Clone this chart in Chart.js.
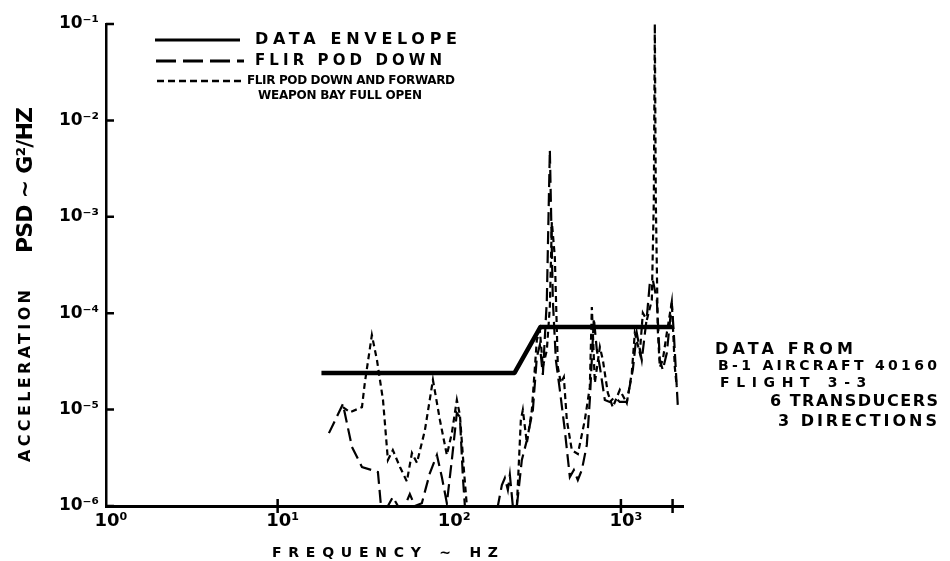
<!DOCTYPE html>
<html>
<head>
<meta charset="utf-8">
<script src="https://cdn.jsdelivr.net/npm/chart.js@4.4.1/dist/chart.umd.min.js"></script>
<style>
html,body{margin:0;padding:0;background:#fff;}
#wrap{position:relative;width:950px;height:561px;overflow:hidden;background:#fff;font-family:"DejaVu Sans",sans-serif;color:#000;}
#c{position:absolute;left:0;top:0;}
.t{position:absolute;white-space:nowrap;line-height:1;font-family:"DejaVu Sans",sans-serif;font-weight:bold;color:#000;}
#leg{position:absolute;left:0;top:0;}
</style>
</head>
<body>
<div id="wrap">
<canvas id="c" width="950" height="561"></canvas>
<svg id="leg" width="950" height="561">
  <line x1="155" y1="40" x2="240" y2="40" stroke="#000" stroke-width="3"/>
  <line x1="156" y1="61" x2="244" y2="61" stroke="#000" stroke-width="3" stroke-dasharray="20 7"/>
  <line x1="157" y1="81" x2="245" y2="81" stroke="#000" stroke-width="2.5" stroke-dasharray="7 4"/>
</svg>
</div>
<script>
// ---------------- data ----------------
const xTickValues = [1, 10, 100, 1000, 2000];
const xTickLabels = ['10⁰', '10¹', '10²', '10³', ''];
const xTickMarks  = [10, 1000, 2000];
const yTickValues = [1e-6, 1e-5, 1e-4, 1e-3, 1e-2, 1e-1];
const yTickLabels = ['10⁻⁶', '10⁻⁵', '10⁻⁴', '10⁻³', '10⁻²', '10⁻¹'];

const seriesNames = ['DATA ENVELOPE', 'FLIR POD DOWN', 'FLIR POD DOWN AND FORWARD WEAPON BAY FULL OPEN'];

const envelopeFreq = [18, 240, 340, 2000];
const envelopePsd  = [2.4e-5, 2.4e-5, 7.2e-5, 7.2e-5];

const podDownFreq = [19.9, 24.0, 27.1, 31.0, 35.4, 38.4, 40.0, 43.9, 46.9, 50.2, 55.1, 58.9, 63.0,
  69.2, 77.1, 84.7, 90.5, 96.8, 103.5, 110.7, 115.3, 120, 123.3,
  191.9, 202.5, 210.8, 219.4, 225.4, 234.6, 247.6, 264.7, 283.1, 306.9, 323.7, 337, 350.9, 370.2,
  385.4, 401.2, 417.8, 440.7, 471.2, 504, 531.7, 561, 592, 633, 659, 695.6, 723.9, 753.9, 805.9,
  861.6, 921.2, 985.4, 1082, 1173, 1237, 1323, 1416, 1474, 1534, 1619, 1685, 1754, 1851, 1979, 2033, 2145];
const podDownPsd = [5.7e-6, 1.14e-5, 4.1e-6, 2.54e-6, 2.36e-6, 2.25e-6, 1e-6, 1e-6, 1.24e-6, 1e-6, 1e-6, 1.33e-6, 1e-6,
  1.07e-6, 2.2e-6, 3.38e-6, 2.0e-6, 1.07e-6, 3.0e-6, 9.2e-6, 8.4e-6, 2.0e-6, 1e-6,
  1e-6, 1.65e-6, 1.95e-6, 1.47e-6, 2.1e-6, 1e-6, 1e-6, 3e-6, 4.8e-6, 9.9e-6, 3.51e-5, 4.68e-5, 2.29e-5, 1.37e-4,
  4.93e-3, 1.37e-4, 3.27e-5, 1.6e-5, 6.1e-6, 2.0e-6, 2.36e-6, 1.86e-6, 2.36e-6, 4.3e-6, 1.26e-5, 8.9e-5, 4.15e-5, 2.77e-5, 1.26e-5,
  1.2e-5, 1.35e-5, 1.2e-5, 1.2e-5, 2.58e-5, 6.24e-5, 3.27e-5, 9.14e-5, 2.06e-4, 2.21e-4, 1.37e-4, 3.27e-5, 2.58e-5, 3.86e-5, 1.28e-4, 6.24e-5, 1.1e-5];

const podFwdFreq = [24.0, 26.4, 31.0, 32.2, 35.4, 37.9, 41.1, 43.9, 46.9, 51.6, 56.6, 60.6, 64.8, 72.1, 80.3, 88.2,
  96.8, 103.5, 110.7, 115.3, 121.7, 126.6, 247.6, 261.2, 268.3, 283.1, 302.8, 323.7, 337, 350.9, 370.2,
  385.4, 395.9, 412.1, 429.1, 446.7, 465, 484, 517.6, 561, 616.3, 659, 677, 704.7, 753.9, 784.8, 838.9,
  896.8, 985.4, 1082, 1157, 1205, 1289, 1342, 1416, 1514, 1555, 1576, 1597, 1640, 1685, 1754, 1851, 1979, 2060, 2116];
const podFwdPsd = [1.06e-5, 9.4e-6, 1.06e-5, 1.89e-5, 5.94e-5, 3.27e-5, 1.26e-5, 3.0e-6, 3.8e-6, 2.54e-6, 1.8e-6, 3.55e-6, 2.8e-6, 6.1e-6, 2.03e-5, 7.8e-6,
  3.38e-6, 5.7e-6, 1.26e-5, 8.8e-6, 2.36e-6, 1e-6, 1e-6, 7.8e-6, 9.9e-6, 4.5e-6, 9.9e-6, 5.27e-5, 6.7e-5, 2.77e-5, 4.15e-5,
  1.16e-4, 8.83e-4, 3.83e-4, 2.77e-5, 1.89e-5, 2.18e-5, 7.8e-6, 3.8e-6, 3.46e-6, 7.8e-6, 1.71e-5, 1.16e-4, 1.89e-5, 4.46e-5, 3.27e-5, 1.49e-5,
  1.06e-5, 1.6e-5, 1.17e-5, 2.4e-5, 6.24e-5, 3.86e-5, 1.005e-4, 8.5e-5, 1.37e-4, 1.49e-3, 0.1, 1.49e-3, 6.7e-5, 2.77e-5, 3.27e-5, 6.24e-5, 1.31e-4, 2.77e-5, 1.71e-5];

// ---------------- chart ----------------
const pts = (xs, ys) => xs.map((x, i) => ({x: x, y: ys[i]}));

const tickMarks = {
  id: 'tickMarks',
  afterDraw(chart) {
    const {ctx, chartArea: a} = chart;
    const xs = chart.scales.x, ys = chart.scales.y;
    ctx.save();
    ctx.strokeStyle = '#000';
    ctx.lineWidth = 2.5;
    ctx.beginPath();
    xTickMarks.forEach(v => { const px = xs.getPixelForValue(v); ctx.moveTo(px, a.bottom - 7); ctx.lineTo(px, a.bottom + 7); });
    yTickValues.forEach(v => { const py = ys.getPixelForValue(v); ctx.moveTo(a.left, py); ctx.lineTo(a.left + 8, py); });
    ctx.stroke();
    ctx.restore();
  }
};

new Chart(document.getElementById('c'), {
  type: 'line',
  data: {
    datasets: [
      {label: seriesNames[0], data: pts(envelopeFreq, envelopePsd), borderColor: '#000', borderWidth: 4.5, borderJoinStyle: 'round', pointRadius: 0, tension: 0},
      {label: seriesNames[1], data: pts(podDownFreq, podDownPsd), borderColor: '#000', borderWidth: 2.2, borderDash: [13, 6], pointRadius: 0, tension: 0},
      {label: seriesNames[2], data: pts(podFwdFreq, podFwdPsd), borderColor: '#000', borderWidth: 2.2, borderDash: [6, 4], pointRadius: 0, tension: 0}
    ]
  },
  options: {
    responsive: false,
    animation: false,
    devicePixelRatio: 1,
    layout: {padding: {left: 0, right: 267, top: 24, bottom: 0}},
    plugins: {legend: {display: false}, tooltip: {enabled: false}},
    scales: {
      x: {
        type: 'logarithmic', min: 1, max: 2300,
        afterBuildTicks: s => { s.ticks = xTickValues.map(v => ({value: v})); },
        afterFit: s => { s.height = 55; },
        grid: {display: false, drawTicks: false},
        border: {display: true, color: '#000', width: 3},
        ticks: {
          autoSkip: false, maxRotation: 0, padding: 5, color: '#000', labelOffset: 5,
          font: {family: 'DejaVu Sans', size: 18, weight: 'bold'},
          callback: v => { const i = xTickValues.indexOf(v); return i >= 0 ? xTickLabels[i] : ''; }
        }
      },
      y: {
        type: 'logarithmic', min: 1e-6, max: 1e-1,
        afterBuildTicks: s => { s.ticks = yTickValues.map(v => ({value: v})); },
        afterFit: s => { s.width = 106; },
        grid: {display: false, drawTicks: false},
        border: {display: true, color: '#000', width: 2.5},
        ticks: {
          autoSkip: false, padding: 7, color: '#000',
          font: {family: 'DejaVu Sans', size: 17, weight: 'bold'},
          callback: v => { const i = yTickValues.indexOf(v); return i >= 0 ? yTickLabels[i] : ''; }
        }
      }
    }
  },
  plugins: [tickMarks]
});

// ---------------- text overlays (layout) ----------------
const wrap = document.getElementById('wrap');
function makeText(text, size) {
  const d = document.createElement('div');
  d.className = 't';
  d.style.fontSize = size + 'px';
  d.textContent = text;
  return d;
}
function fit(el, w) {
  el.style.letterSpacing = '0px';
  const nat = el.getBoundingClientRect().width;
  const n = [...el.textContent].length;
  const ls = n > 1 ? (w - nat) / (n - 1) : 0;
  el.style.letterSpacing = ls + 'px';
  return ls;
}
const notes = [
  {text: seriesNames[0], x: 255, cy: 39, size: 16, w: 202},
  {text: seriesNames[1], x: 255, cy: 60, size: 15, w: 187},
  {text: 'FLIR POD DOWN AND FORWARD', x: 247, cy: 80, size: 12, w: 208},
  {text: 'WEAPON BAY FULL OPEN', x: 258, cy: 95, size: 12, w: 164},
  {text: 'DATA FROM', x: 715, cy: 349, size: 16, w: 138},
  {text: 'B-1 AIRCRAFT 40160', x: 718, cy: 365, size: 14, w: 219},
  {text: 'FLIGHT  3-3', x: 720, cy: 382, size: 14, w: 153},
  {text: '6 TRANSDUCERS', x: 770, cy: 401, size: 16, w: 168},
  {text: '3 DIRECTIONS', x: 778, cy: 421, size: 16, w: 159},
  {text: 'FREQUENCY ~ HZ', x: 272, cy: 552, size: 14, w: 226}
];
notes.forEach(n => {
  const d = makeText(n.text, n.size);
  d.style.left = n.x + 'px';
  d.style.top = (n.cy - 0.48 * n.size) + 'px';
  wrap.appendChild(d);
  fit(d, n.w);
});

// rotated y-axis title
const yt = document.createElement('div');
yt.className = 't';
yt.style.display = 'flex';
yt.style.alignItems = 'center';
const s1 = makeText('ACCELERATION', 16); s1.style.position = 'static';
const s2 = makeText('PSD ~ G²/HZ', 22); s2.style.position = 'static';
yt.appendChild(s1); yt.appendChild(s2);
wrap.appendChild(yt);
const ls1 = fit(s1, 172);
fit(s2, 146);
s2.style.marginLeft = (37 - ls1) + 'px';
const h = yt.getBoundingClientRect().height;
yt.style.transformOrigin = '0 50%';
yt.style.left = '25px';
yt.style.top = (462 - h / 2) + 'px';
yt.style.transform = 'rotate(-90deg)';
</script>
</body>
</html>
